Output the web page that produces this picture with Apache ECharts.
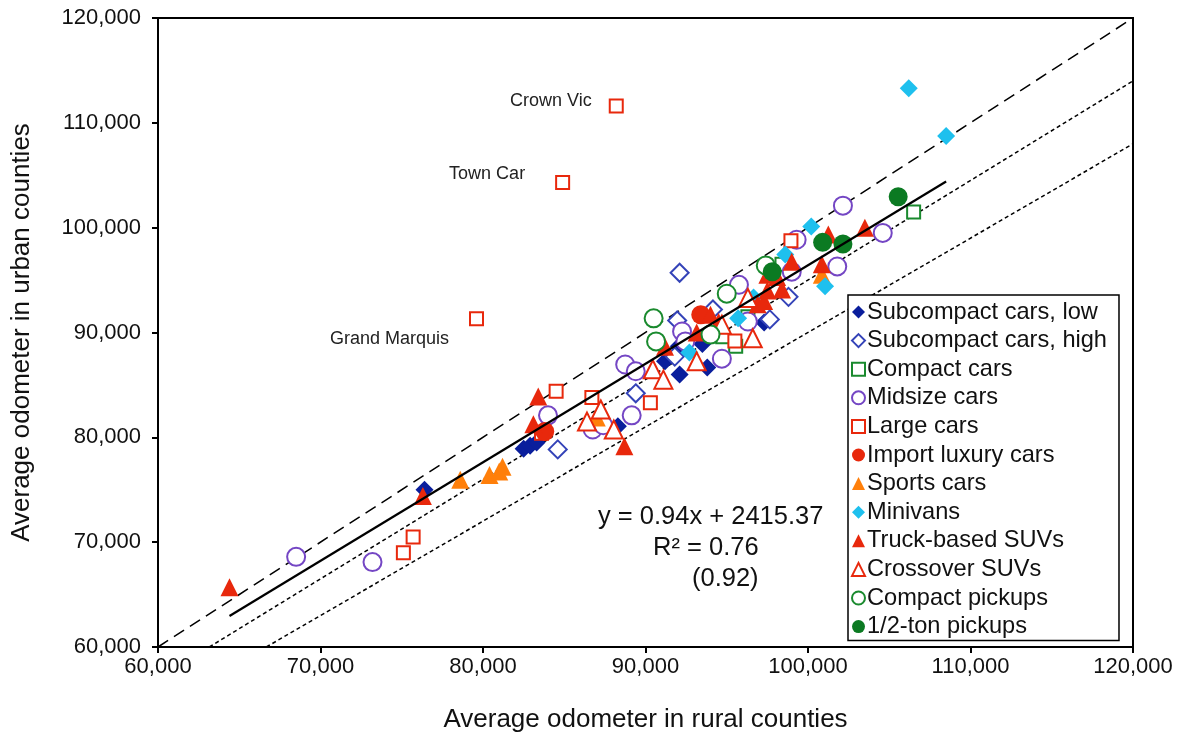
<!DOCTYPE html>
<html>
<head>
<meta charset="utf-8">
<title>Average odometer: rural vs urban counties</title>
<script src="https://cdn.jsdelivr.net/npm/echarts@6/dist/echarts.min.js"></script>
<style>
  html, body { margin: 0; padding: 0; background: #fff; }
  #chart { width: 1187px; height: 738px; }
</style>
</head>
<body>
<div id="chart"></div>
<script>
// Average odometer reading [rural, urban] for each vehicle model, by class
const subcompactLow = [
  [76400, 75000], [82500, 78900], [82900, 79200], [83300, 79500], [88300, 81050],
  [91200, 87250], [92100, 86000], [93800, 86650], [97300, 90950], [92050, 88700], [93500, 88900]
];
const subcompactHigh = [
  [92100, 95700], [84600, 78850], [89400, 84200], [91950, 91150], [94150, 92200],
  [97650, 91250], [98800, 93400], [91800, 87700]
];
const compactCars = [
  [106500, 101500], [96300, 91500], [94750, 89600], [95550, 88700], [98400, 96500]
];
const midsizeCars = [
  [68500, 68600], [73200, 68100], [102150, 102100], [104600, 99500], [84000, 82100],
  [86750, 80750], [87400, 81150], [89150, 82100], [88750, 86950], [89400, 86300],
  [92250, 90100], [92450, 89150], [95750, 94550], [94700, 87500], [96300, 91050],
  [99300, 98850], [101800, 96300], [99000, 95800]
];
const largeCars = [
  [88200, 111600], [84900, 104300], [79600, 91300], [75700, 70500], [75100, 69000],
  [84500, 84400], [86700, 83800], [90300, 83300], [95500, 89200], [83600, 80400], [98950, 98750]
];
// Named models among the large cars (first entries of largeCars)
const largeCarNames = ['Crown Vic', 'Town Car', 'Grand Marquis'];
const importLuxury = [
  [83800, 80550], [93400, 91700]
];
const sportsCars = [
  [78600, 75950], [80400, 76400], [81000, 76750], [81200, 77200], [87000, 81900], [100850, 95500]
];
const minivans = [
  [106200, 113300], [108500, 108750], [100200, 100100], [101050, 94400], [98600, 97450],
  [96650, 93350], [95700, 91350], [92700, 88100]
];
const truckSUVs = [
  [64400, 65700], [76300, 74400], [83400, 83900], [83100, 81250], [88700, 79150],
  [91200, 88650], [93150, 90000], [94000, 91700], [94500, 91000], [96900, 92700],
  [97300, 93000], [97500, 94000], [98100, 95300], [98400, 94100], [99000, 96750],
  [100850, 96500], [101250, 99350], [103500, 100000], [97500, 95500]
];
const crossoverSUVs = [
  [90450, 86500], [91100, 85500], [87250, 82650], [86400, 81500], [88050, 80750],
  [93150, 87250], [96600, 89450], [94700, 90750], [96300, 93300]
];
const compactPickups = [
  [90500, 91350], [90650, 89150], [95000, 93700], [94000, 89800], [97400, 96400]
];
const halfTonPickups = [
  [105550, 102950], [100900, 98600], [102150, 98450], [97800, 95800]
];

// Linear fit of urban on rural, and reference ratios urban = k * rural
const fitSlope = 0.94;
const fitIntercept = 2415.37;
const fitR2 = 0.76;
const fitR2Alt = 0.92;
const refRatios = [1.0, 0.95, 0.9];

const axisMin = 60000, axisMax = 120000, axisStep = 10000;

const allPoints = [].concat(subcompactLow, subcompactHigh, compactCars, midsizeCars, largeCars,
  importLuxury, sportsCars, minivans, truckSUVs, crossoverSUVs, compactPickups, halfTonPickups);
const xs = allPoints.map(p => p[0]);
const fitX0 = Math.min.apply(null, xs), fitX1 = Math.max.apply(null, xs);
const fitLine = [fitX0, fitX1].map(x => [x, fitSlope * x + fitIntercept]);

// Ratio lines clipped to the plot square
function ratioLine(k) {
  const x0 = Math.max(axisMin, axisMin / k);
  return [[x0, k * x0], [axisMax, k * axisMax]];
}

const RED = '#e8280c', FONT = 'Liberation Sans, Arial, sans-serif';

function filled(name, data, symbol, size, color) {
  return { name, type: 'scatter', data, symbol, symbolSize: size,
    itemStyle: { color: color, opacity: 1 }, z: 3 };
}
function hollow(name, data, symbol, size, color) {
  return { name, type: 'scatter', data, symbol, symbolSize: size,
    itemStyle: { color: '#fff', borderColor: color, borderWidth: 2, opacity: 1 }, z: 3 };
}

const labelOffsets = [[-12, -5], [-25, -9], [-15, 20]];
const largeData = largeCars.map((p, i) => {
  if (i < largeCarNames.length) {
    return { value: p, label: { show: true, formatter: largeCarNames[i], position: 'left',
      offset: labelOffsets[i], fontSize: 18, color: '#222', fontFamily: FONT } };
  }
  return p;
});

const fmt = v => v.toLocaleString('en-US');

const chart = echarts.init(document.getElementById('chart'));
chart.setOption({
  animation: false,
  backgroundColor: '#fff',
  grid: { left: 158, right: 54, top: 18, bottom: 90, show: true,
    borderColor: '#000', borderWidth: 2, backgroundColor: 'transparent' },
  xAxis: {
    type: 'value', min: axisMin, max: axisMax, interval: axisStep,
    name: 'Average odometer in rural counties', nameLocation: 'middle', nameGap: 60,
    nameTextStyle: { fontSize: 26, color: '#111', fontFamily: FONT },
    axisLine: { lineStyle: { color: '#000', width: 2 } },
    axisTick: { show: true, length: 6, lineStyle: { color: '#000', width: 2 } },
    axisLabel: { fontSize: 22, color: '#111', fontFamily: FONT, margin: 9, formatter: fmt },
    splitLine: { show: false }
  },
  yAxis: {
    type: 'value', min: axisMin, max: axisMax, interval: axisStep,
    name: 'Average odometer in urban counties', nameLocation: 'middle', nameGap: 123,
    nameTextStyle: { fontSize: 26, color: '#111', fontFamily: FONT },
    axisLine: { lineStyle: { color: '#000', width: 2 } },
    axisTick: { show: true, length: 6, lineStyle: { color: '#000', width: 2 } },
    axisLabel: { fontSize: 22, color: '#111', fontFamily: FONT, margin: 17, formatter: fmt },
    splitLine: { show: false }
  },
  legend: {
    orient: 'vertical', left: 848, top: 295,
    padding: [5, 12, 2, 3], itemGap: 4.6,
    backgroundColor: '#fff', borderColor: '#000', borderWidth: 1.5,
    itemWidth: 13, itemHeight: 13,
    textStyle: { fontSize: 23.6, color: '#111', fontFamily: FONT, padding: [0, 0, 0, -3] },
    data: ['Subcompact cars, low', 'Subcompact cars, high', 'Compact cars', 'Midsize cars',
      'Large cars', 'Import luxury cars', 'Sports cars', 'Minivans', 'Truck-based SUVs',
      'Crossover SUVs', 'Compact pickups', '1/2-ton pickups']
  },
  graphic: [
    { type: 'text', left: 598, top: 504, style: {
      text: 'y = ' + fitSlope.toFixed(2) + 'x + ' + fitIntercept.toFixed(2),
      fill: '#111', font: '25.5px ' + FONT } },
    { type: 'text', left: 653, top: 535, style: { text: 'R² = ' + fitR2.toFixed(2),
      fill: '#111', font: '25.5px ' + FONT } },
    { type: 'text', left: 692, top: 566, style: { text: '(' + fitR2Alt.toFixed(2) + ')',
      fill: '#111', font: '25.5px ' + FONT } }
  ],
  series: [
    { name: 'ratio1', type: 'line', data: ratioLine(refRatios[0]), symbol: 'none', silent: true,
      lineStyle: { color: '#000', width: 1.5, type: [12, 7] }, z: 1 },
    { name: 'ratio2', type: 'line', data: ratioLine(refRatios[1]), symbol: 'none', silent: true,
      lineStyle: { color: '#000', width: 1.5, type: [4, 3] }, z: 1 },
    { name: 'ratio3', type: 'line', data: ratioLine(refRatios[2]), symbol: 'none', silent: true,
      lineStyle: { color: '#000', width: 1.5, type: [4, 3] }, z: 1 },
    { name: 'fit', type: 'line', data: fitLine, symbol: 'none', silent: true,
      lineStyle: { color: '#000', width: 2.2 }, z: 4 },
    filled('Subcompact cars, low', subcompactLow, 'diamond', 18, '#0a1e9c'),
    hollow('Subcompact cars, high', subcompactHigh, 'diamond', 18, '#3443b8'),
    hollow('Compact cars', compactCars, 'rect', 13, '#1a8a2e'),
    hollow('Midsize cars', midsizeCars, 'circle', 18, '#7446c4'),
    hollow('Large cars', largeData, 'rect', 13, RED),
    filled('Import luxury cars', importLuxury, 'circle', 19, RED),
    filled('Sports cars', sportsCars, 'triangle', 18, '#ff7f0a'),
    filled('Minivans', minivans, 'diamond', 18, '#1ec0ee'),
    filled('Truck-based SUVs', truckSUVs, 'triangle', 18, RED),
    hollow('Crossover SUVs', crossoverSUVs, 'triangle', 18, RED),
    hollow('Compact pickups', compactPickups, 'circle', 18, '#1a8a2e'),
    filled('1/2-ton pickups', halfTonPickups, 'circle', 19, '#0b7a22')
  ]
});
</script>
</body>
</html>
